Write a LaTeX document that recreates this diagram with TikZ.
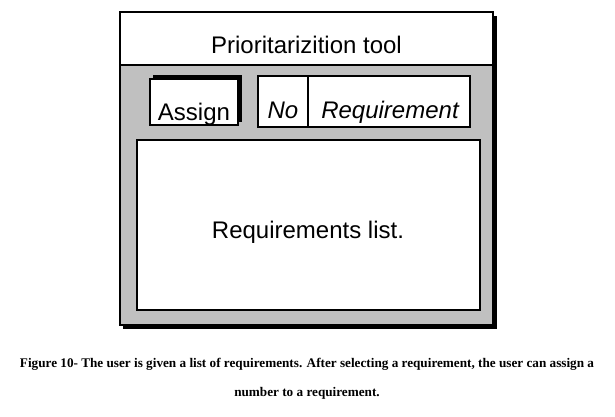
\documentclass[tikz,border=0pt]{standalone}
\usepackage{fontspec}
\setmainfont{Liberation Serif}
\newfontfamily\arial{Liberation Sans}
\begin{document}
\begin{tikzpicture}[x=1pt, y=-1pt, line width=2.5pt,
    box/.style={draw=black, fill=white},
    shade/.style={fill=black},
    label/.style={font=\arial\fontsize{24}{28}\selectfont, inner sep=0pt},
    caption/.style={font=\fontsize{13.2}{15}\bfseries, inner sep=0pt}]
  \useasboundingbox (0,0) rectangle (615,416);
  % window with shadow
  \fill[shade] (123,16) rectangle (497,329);
  \draw[fill={rgb,255:red,192;green,192;blue,192}] (120,65) rectangle (493,325);
  \draw[box] (120,12) rectangle (493,65);
  \node[label] (title) at (306.5,45) {Prioritarizition tool};
  % assign button
  \fill[shade] (153,75) rectangle (242,122);
  \draw[box] (150,79) rectangle (238,125);
  \node[label, anchor=base] (assign) at (194,120) {Assign};
  % column header
  \draw[box] (258,76) rectangle (470,127);
  \draw (308,76) -- (308,127);
  \node[label, anchor=base] (no) at (283,118) {\itshape No};
  \node[label, anchor=base] (req) at (390,118) {\itshape Requirement};
  % list area
  \draw[box] (137,140) rectangle (480,310);
  \node[label] (list) at (308,232) {Requirements list.};
  % caption
  \node[caption] (cap1) at (307,364) {Figure 10- The user is given a list of requirements. After selecting a requirement, the user can assign a};
  \node[caption] (cap2) at (307,393) {number to a requirement.};
\end{tikzpicture}
\end{document}
